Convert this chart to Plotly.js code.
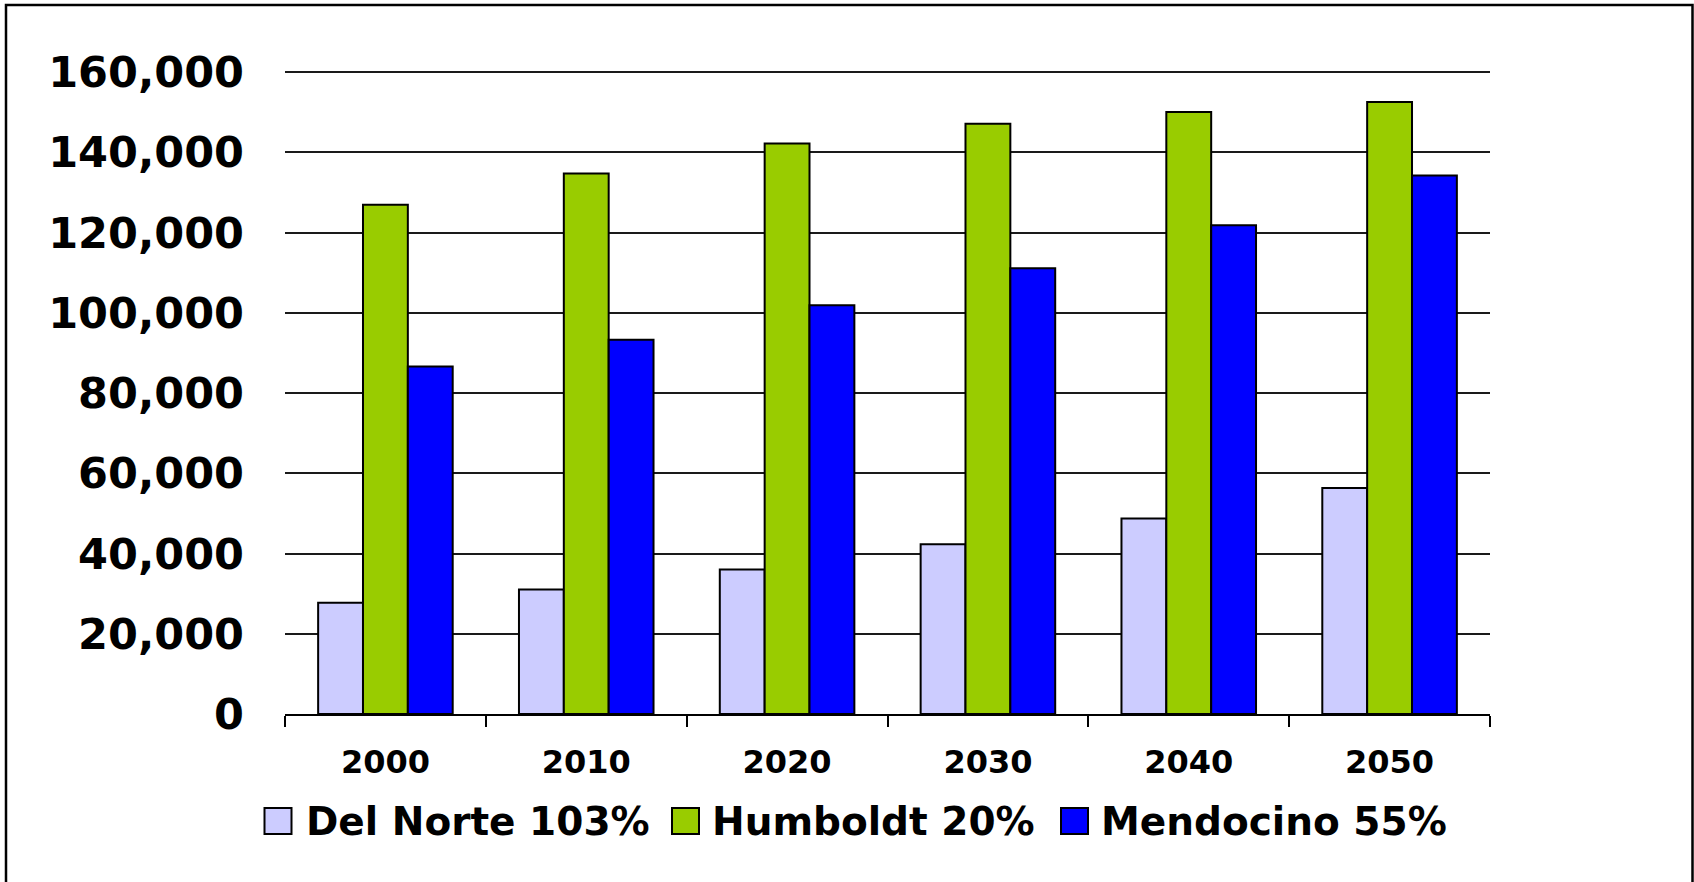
<!DOCTYPE html>
<html>
<head>
<meta charset="utf-8">
<script src="https://cdn.plot.ly/plotly-3.0.1.min.js"></script>
<style>
  html, body { margin: 0; padding: 0; background: #fff; }
  #plot { width: 1694px; height: 882px; }
</style>
</head>
<body>
<div id="plot"></div>
<script>
// years on the x axis
let years = ["2000", "2010", "2020", "2030", "2040", "2050"];

// county populations
let delNorte  = [27700, 31000, 36000, 42300, 48700, 56300];
let humboldt  = [126900, 134700, 142200, 147100, 150000, 152500];
let mendocino = [86600, 93300, 101900, 111100, 121800, 134200];

let seriesNames  = ["Del Norte 103%", "Humboldt 20%", "Mendocino 55%"];
let seriesColors = ["#CCCCFF", "#99CC00", "#0000FF"];

let yTicks = [0, 20000, 40000, 60000, 80000, 100000, 120000, 140000, 160000];

// plot area in pixels (top is pushed up 2px so the 160,000 gridline is drawn)
let W = 1694, H = 882;
let mL = 285, mR = 204, mT = 70, mB = 168;
let pw = W - mL - mR, ph = H - mT - mB;
let yTop = 160000 * ph / (ph - 2);
function px(x) { return (x - mL) / pw; }
function py(y) { return (H - mB - y) / ph; }

let font = { family: "DejaVu Sans, Verdana, sans-serif", color: "#000", weight: "bold" };

let traces = [delNorte, humboldt, mendocino].map(function (vals, i) {
  return {
    x: years,
    y: vals,
    name: seriesNames[i],
    type: "bar",
    marker: { color: seriesColors[i], line: { color: "#000", width: 2 } },
    hoverinfo: "x+y"
  };
});

// legend drawn by hand so the swatches are big like the original
let legendSwatchX = [264.5, 672, 1061];
let legendTextX = [304, 710, 1099];
let shapes = [];
let annotations = [];
seriesNames.forEach(function (name, i) {
  shapes.push({
    type: "rect", xref: "paper", yref: "paper",
    x0: px(legendSwatchX[i]), x1: px(legendSwatchX[i] + 27),
    y0: py(808), y1: py(834),
    fillcolor: seriesColors[i], line: { color: "#000", width: 2 }
  });
  annotations.push({
    xref: "paper", yref: "paper", x: px(legendTextX[i]), y: py(821),
    xanchor: "left", yanchor: "middle", showarrow: false,
    text: name, font: Object.assign({}, font, { size: 39 })
  });
});

// outer frame
shapes.push({
  type: "rect", xref: "paper", yref: "paper",
  x0: px(6), x1: px(1692.5), y0: py(900), y1: py(5),
  line: { color: "#000", width: 2.5 }, fillcolor: "rgba(0,0,0,0)"
});

let layout = {
  width: W, height: H,
  margin: { l: mL, r: mR, t: mT, b: mB },
  paper_bgcolor: "#fff", plot_bgcolor: "#fff",
  font: font,
  showlegend: false,
  barmode: "group",
  bargap: 0.33,
  bargroupgap: 0,
  xaxis: {
    type: "category",
    tickson: "boundaries",
    ticks: "outside", ticklen: 11, tickwidth: 2, tickcolor: "#000",
    showline: true, linecolor: "#000", linewidth: 2,
    showgrid: false,
    tickfont: Object.assign({}, font, { size: 32 }),
    ticklabelstandoff: 19
  },
  yaxis: {
    range: [0, yTop],
    tickvals: yTicks,
    tickformat: ",d",
    showgrid: true, gridcolor: "#1a1a1a", gridwidth: 2,
    zeroline: false, showline: false, ticks: "",
    tickfont: Object.assign({}, font, { size: 43 }),
    ticklabelstandoff: 40
  },
  shapes: shapes,
  annotations: annotations
};

Plotly.newPlot("plot", traces, layout, { displayModeBar: false, staticPlot: true });
</script>
</body>
</html>
